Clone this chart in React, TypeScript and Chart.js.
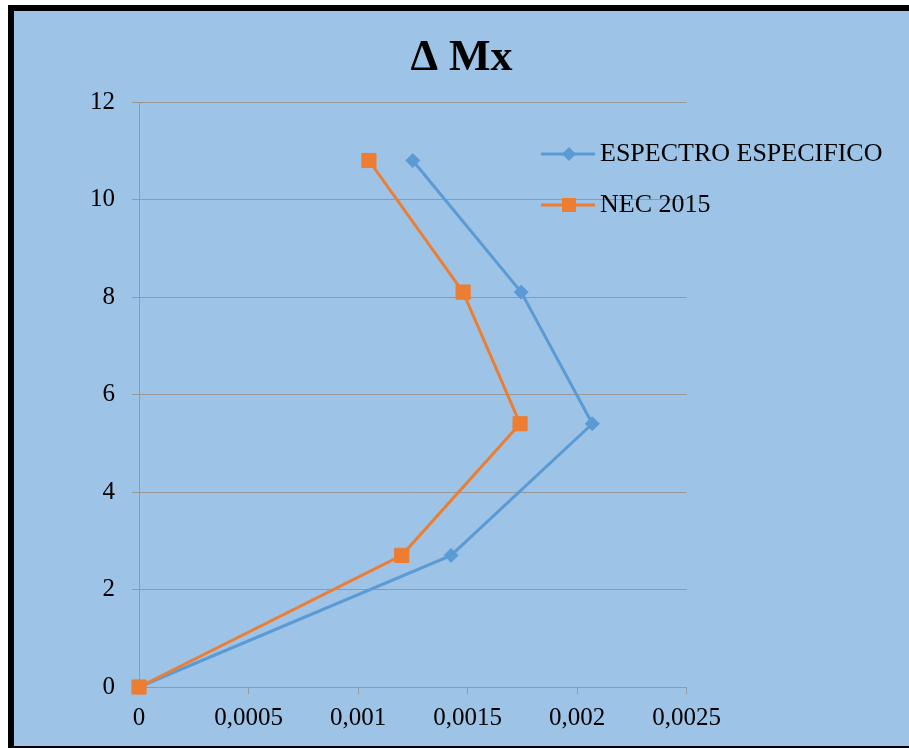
import React, { useEffect, useRef } from "react";
import { Chart, registerables } from "chart.js";

Chart.register(...registerables);

const heights = [0, 2.7, 5.4, 8.1, 10.8];
const espectroEspecifico = [0, 0.001425, 0.00207, 0.001745, 0.00125];
const nec2015 = [0, 0.0012, 0.00174, 0.00148, 0.00105];
const seriesNames = ["ESPECTRO ESPECIFICO", "NEC 2015"];
const xTickLabels = ["0", "0,0005", "0,001", "0,0015", "0,002", "0,0025"];
const yTickLabels = ["0", "2", "4", "6", "8", "10", "12"];
const titleText = "Δ Mx";

const BLUE = "#5B9BD5";
const ORANGE = "#ED7D31";
const GRID = "#989898";
const FONT = "'Liberation Serif', 'Times New Roman', serif";

const legendPlugin = {
  id: "customLegend",
  afterDraw(chart: any) {
    const ctx = chart.ctx;
    const items = [
      { name: seriesNames[0], color: BLUE, shape: "diamond", y: 143 },
      { name: seriesNames[1], color: ORANGE, shape: "square", y: 194 },
    ];
    ctx.save();
    items.forEach((it) => {
      ctx.strokeStyle = it.color;
      ctx.lineWidth = 3;
      ctx.beginPath();
      ctx.moveTo(527, it.y);
      ctx.lineTo(581, it.y);
      ctx.stroke();
      ctx.fillStyle = it.color;
      const cx = 555;
      ctx.beginPath();
      if (it.shape === "diamond") {
        ctx.moveTo(cx - 7, it.y);
        ctx.lineTo(cx, it.y - 7);
        ctx.lineTo(cx + 7, it.y);
        ctx.lineTo(cx, it.y + 7);
        ctx.closePath();
      } else {
        ctx.rect(cx - 7, it.y - 7, 14, 14);
      }
      ctx.fill();
      ctx.fillStyle = "#000";
      ctx.font = `26px ${FONT}`;
      ctx.textBaseline = "middle";
      ctx.textAlign = "left";
      ctx.fillText(it.name, 586, it.y);
    });
    ctx.restore();
  },
};

export default function App() {
  const ref = useRef<HTMLCanvasElement | null>(null);
  useEffect(() => {
    if (!ref.current) return;
    const chart = new Chart(ref.current, {
      type: "line",
      data: {
        datasets: [
          {
            label: seriesNames[0],
            data: heights.map((h, i) => ({ x: espectroEspecifico[i], y: h })),
            borderColor: BLUE,
            backgroundColor: BLUE,
            borderWidth: 3,
            pointStyle: "rectRot",
            pointRadius: 7,
            pointBorderWidth: 1,
            pointBorderColor: BLUE,
            pointBackgroundColor: BLUE,
            tension: 0,
            order: 1,
            clip: false as any,
          },
          {
            label: seriesNames[1],
            data: heights.map((h, i) => ({ x: nec2015[i], y: h })),
            borderColor: ORANGE,
            backgroundColor: ORANGE,
            borderWidth: 3,
            pointStyle: "rect",
            pointRadius: 10,
            pointBorderWidth: 1,
            pointBorderColor: ORANGE,
            pointBackgroundColor: ORANGE,
            tension: 0,
            order: 0,
            clip: false as any,
          },
        ],
      },
      options: {
        responsive: false,
        animation: false,
        devicePixelRatio: 1,
        layout: { padding: { left: 0, right: 0, top: 0, bottom: 0 } },
        plugins: {
          legend: { display: false },
          tooltip: { enabled: false },
          title: {
            display: true,
            text: titleText,
            color: "#000",
            font: { family: FONT, size: 44, weight: "bold" },
            padding: { top: 21.3, bottom: 16.9 },
          },
        },
        scales: {
          x: {
            type: "linear",
            min: 0,
            max: 0.0025,
            ticks: {
              stepSize: 0.0005,
              color: "#000",
              font: { family: FONT, size: 25 },
              padding: 9,
              maxRotation: 0,
              callback: (_v: any, i: number) => xTickLabels[i],
            },
            grid: {
              display: true,
              drawOnChartArea: false,
              drawTicks: true,
              tickLength: 7,
              color: GRID,
            },
            border: { display: true, color: GRID, width: 1 },
            afterFit: (s: any) => {
              s.height = 59;
            },
          },
          y: {
            type: "linear",
            min: 0,
            max: 12,
            ticks: {
              stepSize: 2,
              color: "#000",
              font: { family: FONT, size: 25 },
              padding: 17,
              callback: (_v: any, i: number) => yTickLabels[i],
            },
            grid: {
              display: true,
              drawTicks: true,
              tickLength: 7,
              color: GRID,
            },
            border: { display: true, color: GRID, width: 1 },
            afterFit: (s: any) => {
              s.width = 125;
            },
          },
          spacer: {
            type: "linear",
            position: "right",
            display: true,
            ticks: { display: false },
            grid: { display: false, drawTicks: false },
            border: { display: false },
            afterFit: (s: any) => {
              s.width = 222.5;
            },
          },
        },
      },
      plugins: [legendPlugin],
    } as any);
    return () => chart.destroy();
  }, []);

  return (
    <div
      style={{
        position: "absolute",
        left: 8,
        top: 5,
        width: 901,
        height: 743,
        boxSizing: "border-box",
        borderTop: "6px solid #000",
        borderLeft: "6px solid #000",
        borderBottom: "2px solid #000",
        background: "#9DC3E6",
        overflow: "hidden",
      }}
    >
      <canvas ref={ref} width={895} height={735} style={{ display: "block" }} />
    </div>
  );
}
